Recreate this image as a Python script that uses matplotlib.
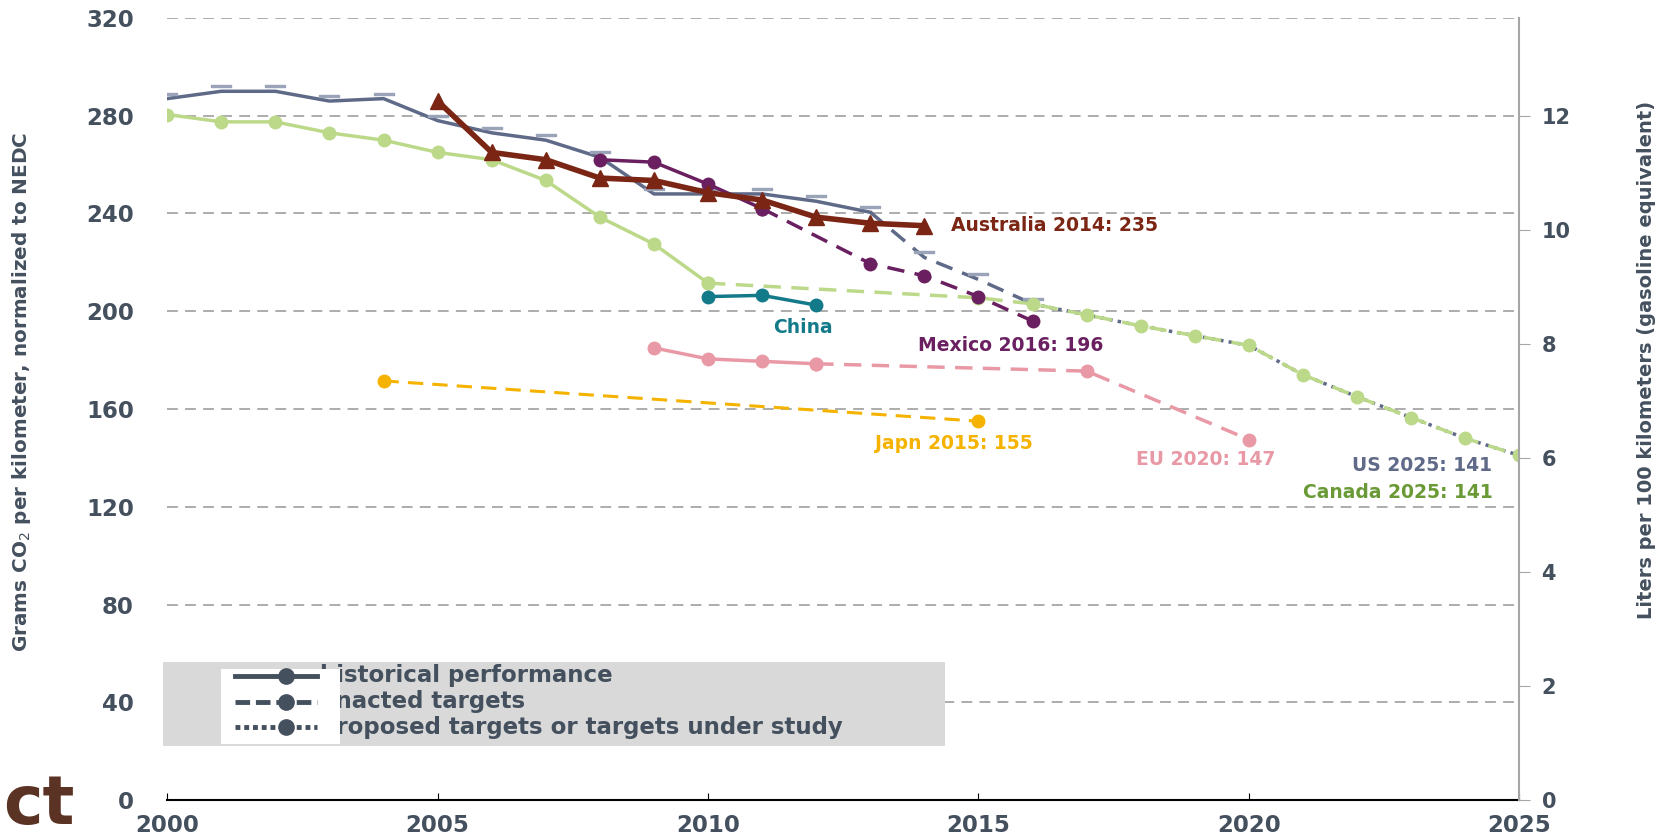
import matplotlib
matplotlib.use('Agg')
import matplotlib.pyplot as plt
from matplotlib.lines import Line2D
from matplotlib.patches import Rectangle

plt.rcParams['font.family'] = ['DejaVu Sans']

# ---- data (g CO2/km, NEDC) ----
us_hist_years = list(range(2000, 2014))
us_hist = [287, 290, 290, 286, 287, 278, 273, 270, 263, 248, 248, 248, 245, 240.5]
us_enact_years = [2013, 2014, 2015, 2016]
us_enact = [240.5, 222, 213, 203]
us_prop_years = list(range(2016, 2026))
us_prop = [203, 198.5, 194, 190, 186, 174, 165, 156.5, 148, 141]

ca_hist_years = list(range(2000, 2011))
ca_hist = [280.5, 277.5, 277.5, 273, 270, 265, 262, 253.5, 238.5, 227.5, 211.5]
ca_enact_years = [2010, 2015, 2016, 2017, 2018, 2019, 2020, 2021, 2022, 2023, 2024, 2025]
ca_enact = [211.5, 205.5, 203, 198.5, 194, 190, 186, 174, 165, 156.5, 148, 141]

au_years = list(range(2005, 2015))
au_vals = [286, 265, 262, 254.5, 253.5, 248.5, 245.5, 238.5, 236, 235]

mx_hist_years = [2008, 2009, 2010, 2011]
mx_hist = [262, 261, 252, 242]
mx_enact_years = [2011, 2013, 2014, 2015, 2016]
mx_enact = [242, 219.5, 214.5, 206, 196]

cn_years = [2010, 2011, 2012]
cn_vals = [206, 206.5, 202.5]

eu_hist_years = [2009, 2010, 2011, 2012]
eu_hist = [185, 180.5, 179.5, 178.5]
eu_enact_years = [2012, 2017, 2020]
eu_enact = [178.5, 175.5, 147.5]

jp_years = [2004, 2015]
jp_vals = [171.5, 155]

labels = [
    ('Australia 2014: 235', 2014.5, 235, 'left', '#7b2614'),
    ('China', 2011.75, 193.5, 'center', '#137a8a'),
    ('Mexico 2016: 196', 2015.6, 186, 'center', '#6a2060'),
    ('Japn 2015: 155', 2014.55, 146, 'center', '#f5b300'),
    ('EU 2020: 147', 2019.2, 139.5, 'center', '#e899a5'),
    ('US 2025: 141', 2024.5, 137, 'right', '#5f6a88'),
    ('Canada 2025: 141', 2024.5, 126, 'right', '#6a9a35'),
]
legend_labels = ['historical performance', 'enacted targets',
                 'proposed targets or targets under study']

slate = '#44505e'
US_C = '#5f6a88'
CA_C = '#bcd98a'
AU_C = '#7b2614'
MX_C = '#6a2060'
CN_C = '#137a8a'
EU_C = '#e899a5'
JP_C = '#f5b300'

fig = plt.figure(figsize=(16.72, 8.4), dpi=100)
ax = fig.add_axes([0.1, 0.0476, 0.8087, 0.931])
ax.set_xlim(2000, 2025)
ax.set_ylim(0, 320)

# US marker: short bar sitting a bit above the point
bar = [(-1, 0.45), (1, 0.45), (1, 0.65), (-1, 0.65), (-1, 0.45)]

ax.plot(us_prop_years, us_prop, color=US_C, lw=2.5, ls=(0, (1, 1.5)), zorder=3)
ax.plot(us_enact_years, us_enact, color=US_C, lw=2.5, ls=(0, (5, 3)), zorder=3)
ax.plot(us_hist_years, us_hist, color=US_C, lw=2.5, zorder=3)
ax.plot(us_hist_years + us_enact_years[1:], us_hist + us_enact[1:], ls='none',
        marker=bar, ms=14, color='#9aa3b8', mec='#9aa3b8', zorder=3)

ax.plot(ca_hist_years, ca_hist, color=CA_C, lw=2.5, marker='o', ms=9,
        mec=CA_C, zorder=4)
ax.plot(ca_enact_years, ca_enact, color=CA_C, lw=2.5, ls=(0, (5, 3)),
        marker='o', ms=9, mec=CA_C, zorder=4)

ax.plot(mx_enact_years, mx_enact, color=MX_C, lw=2.5, ls=(0, (5, 3)),
        marker='o', ms=9, zorder=5)
ax.plot(mx_hist_years, mx_hist, color=MX_C, lw=2.5, marker='o', ms=9, zorder=5)

ax.plot(au_years, au_vals, color=AU_C, lw=4, marker='^', ms=11, zorder=6)

ax.plot(cn_years, cn_vals, color=CN_C, lw=2.5, marker='o', ms=9, zorder=5)

ax.plot(eu_enact_years, eu_enact, color=EU_C, lw=2.5, ls=(0, (5, 3)),
        marker='o', ms=9, zorder=5)
ax.plot(eu_hist_years, eu_hist, color=EU_C, lw=2.5, marker='o', ms=9, zorder=5)

ax.plot(jp_years, jp_vals, color=JP_C, lw=2.2, ls=(0, (5, 3)),
        marker='o', ms=9, zorder=5)

for txt, x, y, ha, c in labels:
    ax.text(x, y, txt, ha=ha, va='center', color=c, fontsize=13.5,
            fontweight='bold', zorder=7)

# axes styling
ax.set_yticks(range(0, 321, 40))
ax.set_xticks(range(2000, 2026, 5))
ax.yaxis.grid(True, ls=(0, (6, 4)), color='#a6a6a6', lw=1.3, zorder=0)
ax.set_axisbelow(True)
for s in ['left', 'top', 'right']:
    ax.spines[s].set_visible(False)
ax.spines['bottom'].set_color('black')
ax.spines['bottom'].set_linewidth(1.5)
ax.tick_params(axis='y', length=0, pad=24, labelsize=16.5, labelcolor=slate)
ax.tick_params(axis='x', direction='in', length=5, color='black', pad=10,
               labelsize=16.5, labelcolor=slate)
for lbl in ax.get_xticklabels() + ax.get_yticklabels():
    lbl.set_fontweight('bold')

ax2 = ax.twinx()
ax2.set_ylim(0, 320 / (280 / 12))
ax2.set_yticks(range(0, 13, 2))
for s in ['left', 'top', 'bottom']:
    ax2.spines[s].set_visible(False)
ax2.spines['right'].set_color('#a6a6a6')
ax2.spines['right'].set_linewidth(1.5)
ax2.tick_params(axis='y', direction='out', length=8, color='#a6a6a6', pad=8,
                labelsize=15, labelcolor=slate)
for lbl in ax2.get_yticklabels():
    lbl.set_fontweight('bold')

fig.text(0.013, 0.534, r'Grams CO$_2$ per kilometer, normalized to NEDC',
         rotation=90, ha='center', va='center', color=slate, fontsize=14.4,
         fontweight='bold')
fig.text(0.985, 0.571, 'Liters per 100 kilometers (gasoline equivalent)',
         rotation=90, ha='center', va='center', color=slate, fontsize=14,
         fontweight='bold')

# legend box
ax.add_patch(Rectangle((-0.003, 0.069), 0.578, 0.1075, transform=ax.transAxes,
                       facecolor='#d9d9d9', edgecolor='none', zorder=8,
                       clip_on=False))
row_y = [0.1586, 0.1258, 0.0933]
styles = ['-', (0, (3, 1.2)), (0, (1, 0.8))]
for yy, txt in zip(row_y, legend_labels):
    ax.text(0.113, yy, txt, transform=ax.transAxes, ha='left', va='center',
            color=slate, fontsize=16.5, fontweight='bold', zorder=9)
ax.add_patch(Rectangle((0.040, 0.0716), 0.0875, 0.096, transform=ax.transAxes,
                       facecolor='white', edgecolor='none', zorder=10,
                       clip_on=False))
for yy, st in zip(row_y, styles):
    ax.add_line(Line2D([0.05, 0.0875, 0.111], [yy, yy, yy], transform=ax.transAxes,
                       color=slate, lw=3.5, ls=st, marker='o', ms=11,
                       markevery=[1], zorder=11, clip_on=False))

fig.text(0.002, 0.002, 'ct', ha='left', va='bottom', color='#5b3324',
         fontsize=48, fontweight='bold')

fig.savefig('out.png', dpi=100)
